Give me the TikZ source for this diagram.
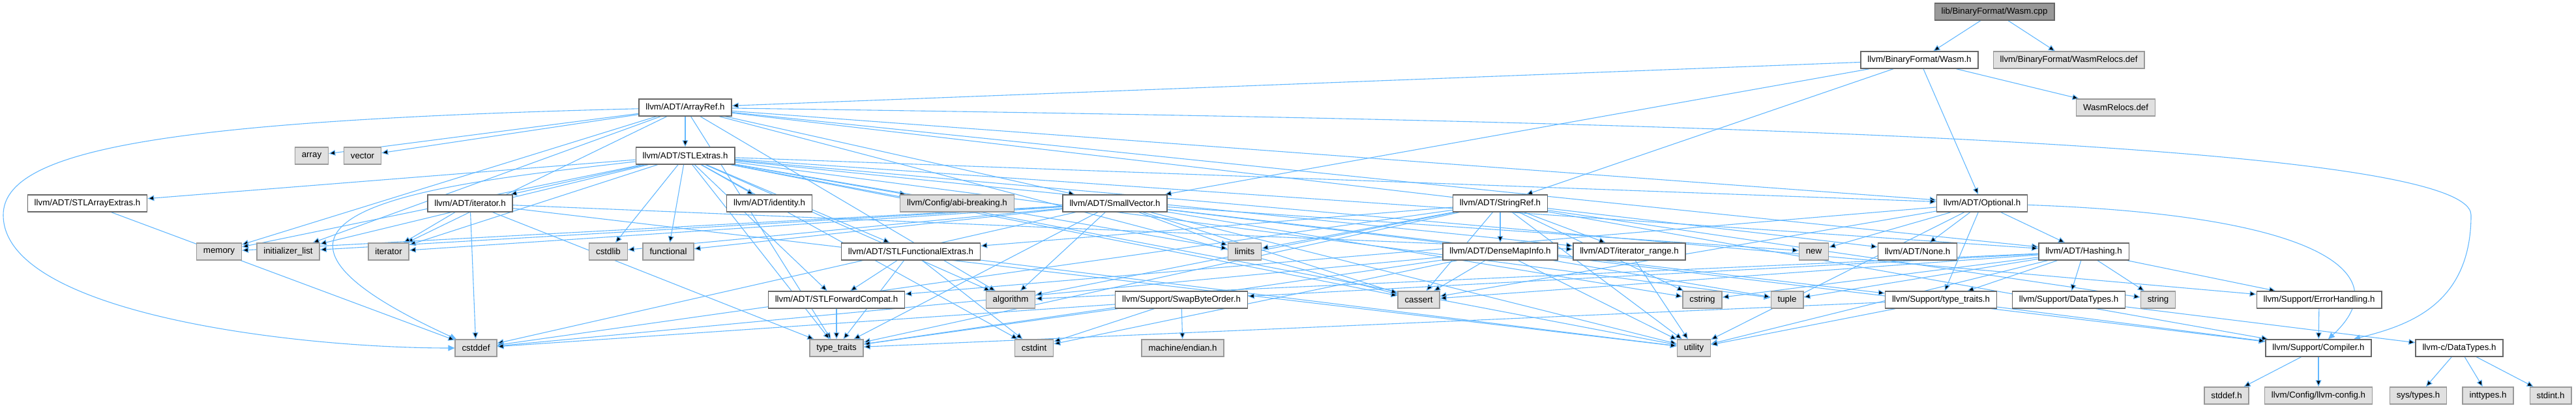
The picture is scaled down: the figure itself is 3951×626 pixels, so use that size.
\documentclass[tikz,border=0pt]{standalone}
\usepackage{fontspec}
\setmainfont{Liberation Sans}
\usetikzlibrary{arrows.meta}
\pgfdeclarelayer{background}
\pgfsetlayers{background,main}
\definecolor{EdgeBlue}{HTML}{63B8FF}
\definecolor{BoxLine}{HTML}{666666}
\definecolor{SysFill}{HTML}{E0E0E0}
\definecolor{SysLine}{HTML}{999999}
\definecolor{RootFill}{HTML}{999999}

\begin{document}
\begin{tikzpicture}[
        x=0.5pt, y=-0.5pt,
        hdr/.style={
            draw=BoxLine,
            fill=white,
            line width=0.7pt,
            minimum height=13pt,
            inner xsep=5.2pt,
            inner ysep=0pt,
            font=\fontsize{6.65}{8}\selectfont
        },
        syshdr/.style={
            hdr,
            draw=SysLine,
            fill=SysFill
        },
        roothdr/.style={
            hdr,
            fill=RootFill
        },
        dep/.style={
            draw=EdgeBlue,
            line width=0.55pt,
            -{Triangle[length=5pt,width=4.4pt]}
        }
    ]
        \useasboundingbox (0,0) rectangle (3951,626);

        \node[roothdr] (wasmcpp) at (3059,18) {lib/BinaryFormat/Wasm.cpp};
        \node[hdr] (wasmh) at (2944,92) {llvm/BinaryFormat/Wasm.h};
        \node[syshdr] (relocsfull) at (3173,92) {llvm/BinaryFormat/WasmRelocs.def};
        \node[hdr] (arrayref) at (1051,165) {llvm/ADT/ArrayRef.h};
        \node[syshdr] (relocs) at (3245,165) {WasmRelocs.def};
        \node[syshdr] (array) at (478,239) {array};
        \node[syshdr] (vector) at (556,239) {vector};
        \node[hdr] (stlextras) at (1051,239) {llvm/ADT/STLExtras.h};
        \node[hdr] (stlarrayextras) at (134,312) {llvm/ADT/STLArrayExtras.h};
        \node[hdr] (iteratorh) at (721,312) {llvm/ADT/iterator.h};
        \node[hdr] (identity) at (1180,312) {llvm/ADT/identity.h};
        \node[syshdr] (abibreaking) at (1468,312) {llvm/Config/abi-breaking.h};
        \node[hdr] (smallvector) at (1710,312) {llvm/ADT/SmallVector.h};
        \node[hdr] (stringref) at (2301,312) {llvm/ADT/StringRef.h};
        \node[hdr] (optional) at (3040,312) {llvm/ADT/Optional.h};
        \node[syshdr] (memory) at (336,386) {memory};
        \node[syshdr] (initlist) at (442,386) {initializer\_list};
        \node[syshdr] (iterator) at (596,386) {iterator};
        \node[syshdr] (cstdlib) at (933,386) {cstdlib};
        \node[syshdr] (functional) at (1025,386) {functional};
        \node[hdr] (stlfunc) at (1397,386) {llvm/ADT/STLFunctionalExtras.h};
        \node[syshdr] (limits) at (1909,386) {limits};
        \node[hdr] (densemap) at (2301,386) {llvm/ADT/DenseMapInfo.h};
        \node[hdr] (iterrange) at (2499,386) {llvm/ADT/iterator\_range.h};
        \node[syshdr] (newh) at (2782,386) {new};
        \node[hdr] (none) at (2941,386) {llvm/ADT/None.h};
        \node[hdr] (hashing) at (3196,386) {llvm/ADT/Hashing.h};
        \node[hdr] (stlfwd) at (1283,460) {llvm/ADT/STLForwardCompat.h};
        \node[syshdr] (algorithm) at (1550,460) {algorithm};
        \node[hdr] (swapbyte) at (1812,460) {llvm/Support/SwapByteOrder.h};
        \node[syshdr] (cassert) at (2176,460) {cassert};
        \node[syshdr] (cstring) at (2611,460) {cstring};
        \node[syshdr] (tuple) at (2741,460) {tuple};
        \node[hdr] (typetraitsh) at (2977,460) {llvm/Support/type\_traits.h};
        \node[hdr] (datatypes) at (3173,460) {llvm/Support/DataTypes.h};
        \node[syshdr] (string) at (3310,460) {string};
        \node[hdr] (errorh) at (3557,460) {llvm/Support/ErrorHandling.h};
        \node[syshdr] (cstddef) at (730,534) {cstddef};
        \node[syshdr] (typetraits) at (1283,534) {type\_traits};
        \node[syshdr] (cstdint) at (1586,534) {cstdint};
        \node[syshdr] (endian) at (1814,534) {machine/endian.h};
        \node[syshdr] (utility) at (2598,534) {utility};
        \node[hdr] (compiler) at (3556,534) {llvm/Support/Compiler.h};
        \node[hdr] (cdatatypes) at (3772,534) {llvm-c/DataTypes.h};
        \node[syshdr] (stddef) at (3415,607) {stddef.h};
        \node[syshdr] (llvmconfig) at (3556,607) {llvm/Config/llvm-config.h};
        \node[syshdr] (systypes) at (3709,607) {sys/types.h};
        \node[syshdr] (inttypes) at (3816,607) {inttypes.h};
        \node[syshdr] (stdint) at (3912,607) {stdint.h};

        \begin{pgfonlayer}{background}
        \path[dep] (wasmcpp) edge (wasmh) edge (relocsfull);
        \path[dep] (wasmh) edge (arrayref) edge (smallvector) edge (stringref) edge (optional) edge (relocs);

        \path[dep] (arrayref) edge (stlextras) edge (array) edge (vector) edge (memory) edge (initlist)
            edge (iterator) edge (algorithm) edge (smallvector) edge (cassert) edge (typetraits)
            edge (optional) edge (hashing) edge (none);
        \draw[dep] (arrayref) .. controls (250,185) and (5,230) .. (5,330)
            .. controls (5,480) and (450,534) .. (cstddef);
        \draw[dep] (arrayref) .. controls (2500,185) and (3790,215) .. (3790,330)
            .. controls (3790,470) and (3690,500) .. (compiler);

        \path[dep] (stlextras) edge (stlarrayextras) edge (iteratorh) edge (identity) edge (abibreaking)
            edge (memory) edge (initlist) edge (iterator) edge (cstdlib) edge (functional)
            edge (stlfunc) edge (stlfwd) edge (algorithm) edge (typetraits) edge (cstdint)
            edge (limits) edge (cassert) edge (iterrange) edge (tuple) edge (utility)
            edge (optional) edge (hashing) edge (errorh);
        \draw[dep] (stlextras) .. controls (700,280) and (260,320) .. (cstddef);

        \path[dep] (stlarrayextras) edge (cstddef);
        \path[dep] (iteratorh) edge (iterrange) edge (iterator) edge (cstddef) edge (typetraits) edge (utility);

        \path[dep] (smallvector) edge (compiler) edge (typetraitsh) edge (algorithm) edge (cassert)
            edge (cstddef) edge (cstdlib) edge (cstring) edge (functional) edge (initlist)
            edge (iterator) edge (limits) edge (memory) edge (newh) edge (typetraits) edge (utility);

        \path[dep] (stringref) edge (densemap) edge (stlfunc) edge (iterrange) edge (compiler)
            edge (algorithm) edge (cassert) edge (cstddef) edge (cstring) edge (limits)
            edge (string) edge (typetraits) edge (utility);

        \path[dep] (densemap) edge (cassert) edge (cstddef) edge (cstdint) edge (tuple)
            edge (typetraits) edge (utility);
        \path[dep] (stlfunc) edge (stlfwd) edge (cstdint) edge (typetraits) edge (utility);
        \path[dep] (stlfwd) edge (typetraits);
        \path[dep] (iterrange) edge (utility);

        \path[dep] (optional) edge (none) edge (hashing) edge (stlfwd) edge (typetraitsh)
            edge (cassert) edge (newh) edge (utility);
        \draw[dep] (optional) .. controls (3560,330) and (3680,420) .. (compiler);

        \path[dep] (hashing) edge (errorh) edge (datatypes) edge (swapbyte) edge (typetraitsh)
            edge (algorithm) edge (cassert) edge (cstring) edge (string) edge (tuple) edge (utility);
        \path[dep] (swapbyte) edge (cstddef) edge (cstdint) edge (typetraits) edge (endian);
        \path[dep] (typetraitsh) edge (compiler) edge (typetraits) edge (utility);
        \path[dep] (datatypes) edge (cdatatypes);
        \path[dep] (errorh) edge (compiler);
        \path[dep] (compiler) edge (stddef) edge (llvmconfig);
        \path[dep] (cdatatypes) edge (systypes) edge (inttypes) edge (stdint);
        \end{pgfonlayer}
    \end{tikzpicture}
\end{document}
